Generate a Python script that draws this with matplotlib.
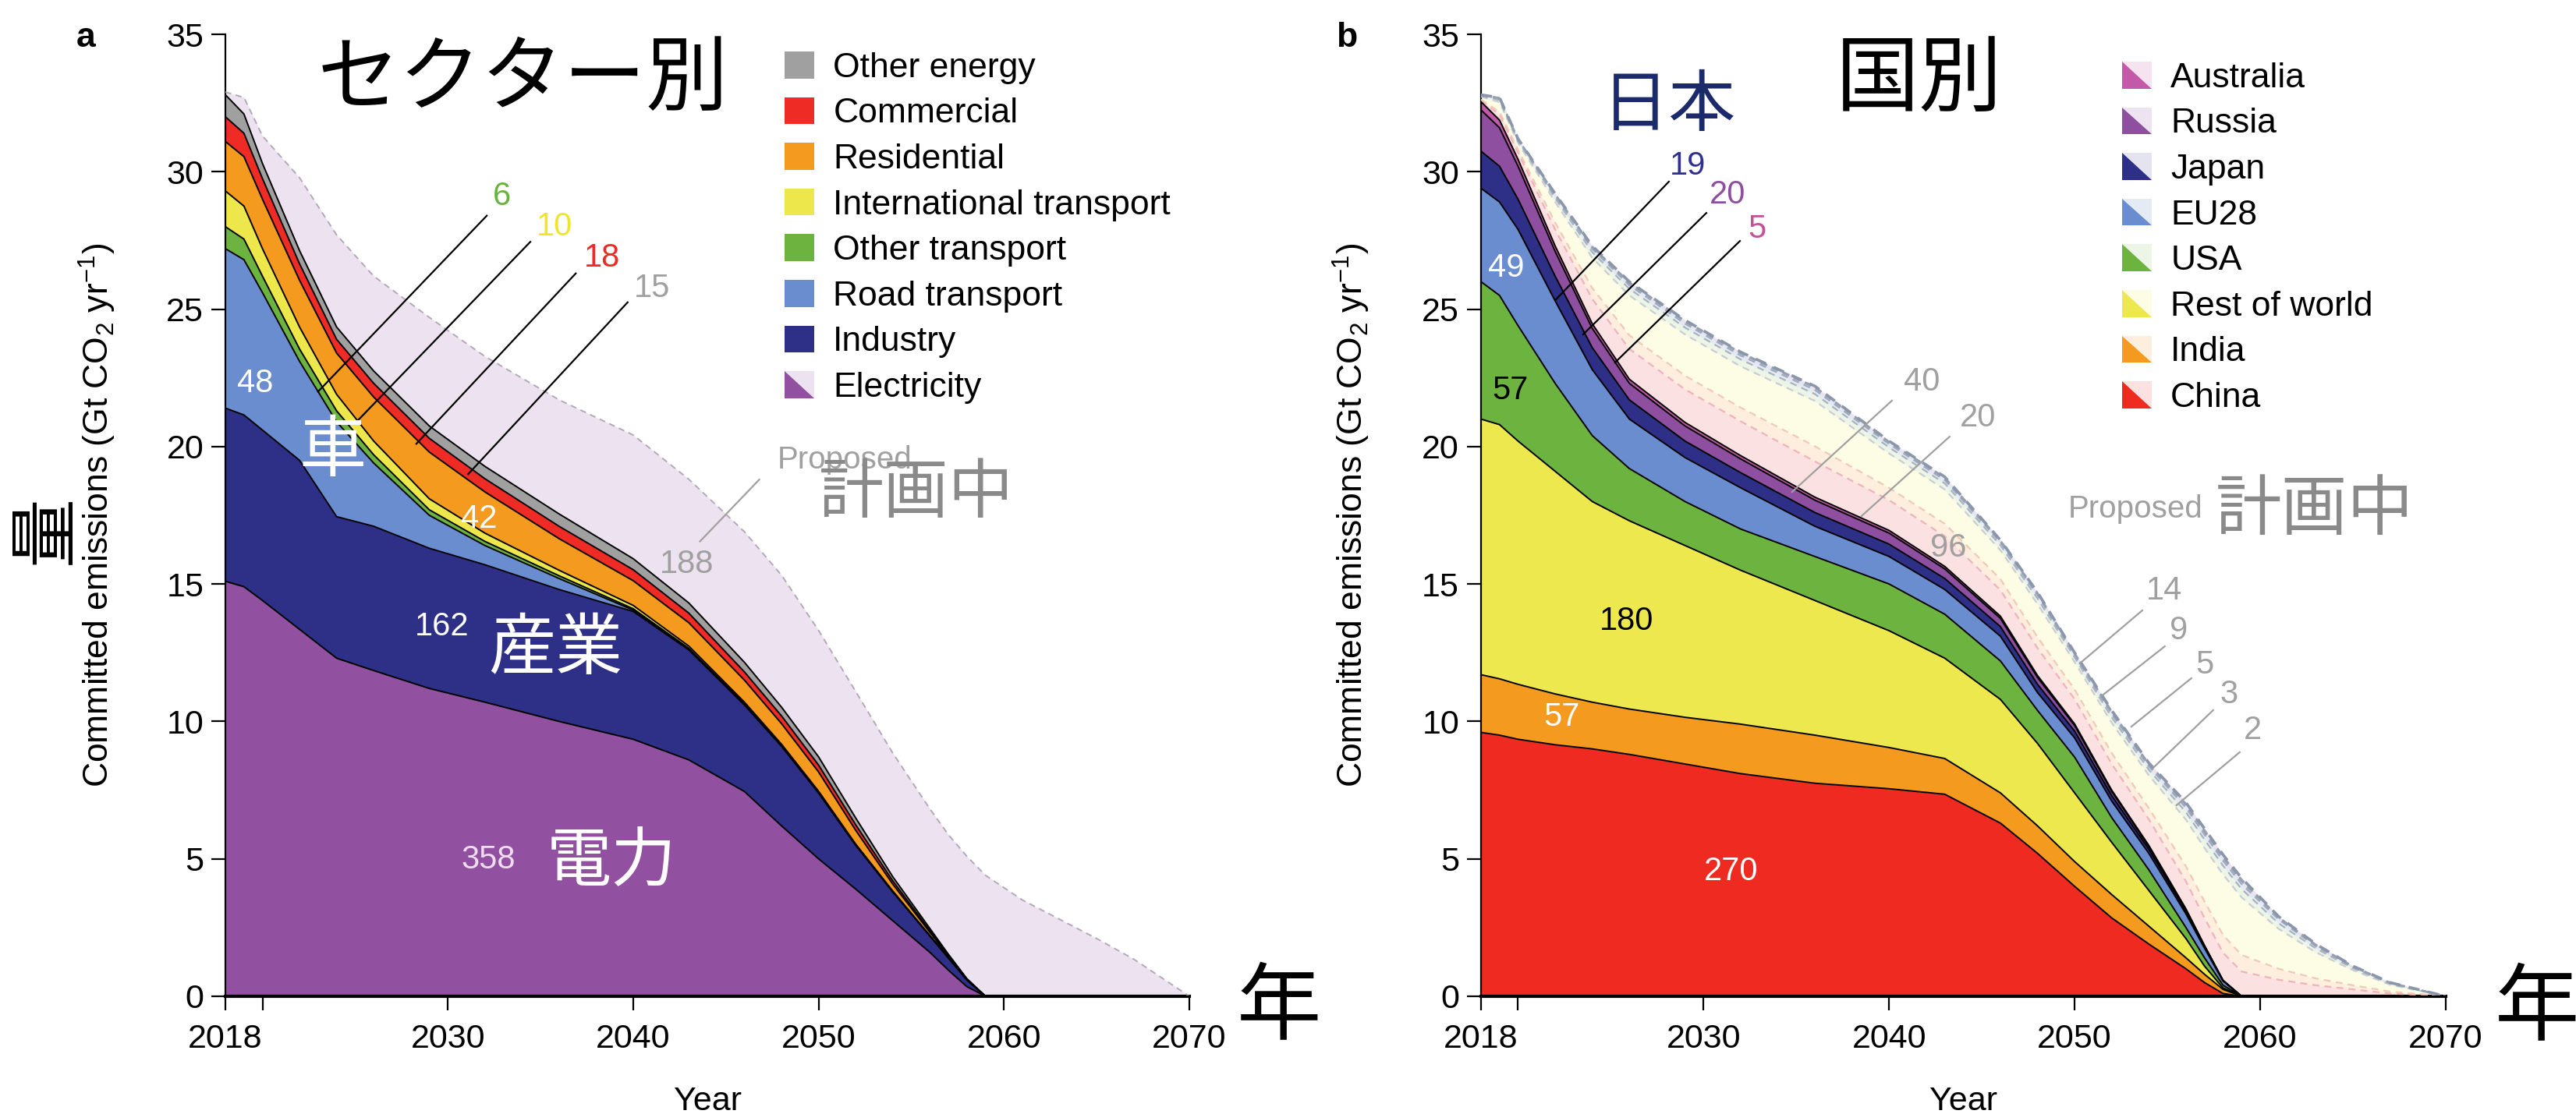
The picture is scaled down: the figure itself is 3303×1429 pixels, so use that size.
import matplotlib
matplotlib.use("Agg")
import matplotlib.pyplot as plt
import numpy as np
from matplotlib.patches import Patch, Polygon
from matplotlib.legend_handler import HandlerBase

plt.rcParams['font.family'] = ['Liberation Sans', 'DejaVu Sans']
plt.rcParams['mathtext.fontset'] = 'custom'
plt.rcParams['mathtext.rm'] = 'Liberation Sans'
plt.rcParams['mathtext.it'] = 'Liberation Sans:italic'
JP = ['Noto Sans CJK JP', 'DejaVu Sans']

years = [2018, 2019, 2020, 2022, 2024, 2026, 2029, 2032, 2036, 2040, 2043, 2046, 2048,
         2050, 2052, 2054, 2056, 2057, 2058, 2059, 2061, 2063, 2065, 2067, 2070]

# panel a: committed emissions by sector (Gt CO2 per year)
electricity = [15.1, 14.9, 14.4, 13.35, 12.3, 11.85, 11.2, 10.7, 10.0, 9.35, 8.6, 7.45, 6.2,
               5.0, 3.9, 2.75, 1.6, 0.95, 0.35, 0, 0, 0, 0, 0, 0]
industry = [6.3, 6.25, 6.2, 6.15, 5.15, 5.25, 5.1, 5.0, 4.8, 4.65, 4.0, 3.15, 2.9,
            2.4, 1.6, 1.05, 0.6, 0.45, 0.25, 0, 0, 0, 0, 0, 0]
road_transport = [5.8, 5.65, 5.0, 3.6, 3.45, 2.3, 1.2, 0.7, 0.4, 0.05, 0.02, 0.01, 0,
                  0, 0, 0, 0, 0, 0, 0, 0, 0, 0, 0, 0]
other_transport = [0.8, 0.75, 0.6, 0.45, 0.4, 0.3, 0.2, 0.15, 0.1, 0.05, 0.04, 0.03, 0.02,
                   0.02, 0.01, 0.01, 0, 0, 0, 0, 0, 0, 0, 0, 0]
intl_transport = [1.3, 1.2, 1.0, 0.8, 0.6, 0.5, 0.4, 0.3, 0.2, 0.12, 0.08, 0.06, 0.05,
                  0.04, 0.03, 0.02, 0.01, 0, 0, 0, 0, 0, 0, 0, 0]
residential = [1.8, 1.8, 1.8, 1.7, 1.5, 1.6, 1.7, 1.5, 1.15, 0.9, 0.85, 0.8, 0.75,
               0.7, 0.5, 0.25, 0.12, 0.06, 0.02, 0, 0, 0, 0, 0, 0]
commercial = [0.9, 0.85, 0.75, 0.6, 0.5, 0.5, 0.5, 0.48, 0.45, 0.4, 0.35, 0.3, 0.28,
              0.25, 0.2, 0.12, 0.06, 0.03, 0.01, 0, 0, 0, 0, 0, 0]
other_energy = [0.8, 0.7, 0.55, 0.48, 0.45, 0.45, 0.45, 0.45, 0.45, 0.4, 0.37, 0.35, 0.32,
                0.3, 0.25, 0.15, 0.08, 0.04, 0.01, 0, 0, 0, 0, 0, 0]
electricity_proposed = [0.1, 0.6, 1.0, 2.65, 3.35, 3.45, 3.95, 4.0, 4.15, 4.5, 4.5, 4.75, 4.8,
                        4.6, 4.6, 4.5, 4.35, 4.35, 4.45, 4.4, 3.5, 2.8, 2.1, 1.35, 0]

sector_names = ['Electricity', 'Industry', 'Road transport', 'Other transport',
                'International transport', 'Residential', 'Commercial', 'Other energy']
sector_colors = ['#9150a0', '#2e2f86', '#6a8dcf', '#6cb33f', '#ede74b', '#f39a1f', '#ee2b24', '#a0a0a0']
electricity_pale = '#ede3f0'

# panel b: committed emissions by country (Gt CO2 per year)
china = [9.6, 9.5, 9.35, 9.15, 9.0, 8.8, 8.45, 8.1, 7.75, 7.55, 7.35, 6.3, 5.2,
         4.0, 2.85, 1.9, 1.0, 0.5, 0.1, 0, 0, 0, 0, 0, 0]
india = [2.1, 2.05, 2.0, 1.85, 1.7, 1.65, 1.7, 1.8, 1.75, 1.5, 1.3, 1.1, 1.0,
         0.9, 0.85, 0.65, 0.4, 0.3, 0.15, 0, 0, 0, 0, 0, 0]
rest_of_world = [9.3, 9.25, 8.85, 8.1, 7.3, 6.85, 6.25, 5.6, 4.9, 4.25, 3.65, 3.4, 3.0,
                 2.5, 1.9, 1.3, 0.7, 0.3, 0.05, 0, 0, 0, 0, 0, 0]
usa = [5.0, 4.7, 4.2, 3.2, 2.4, 1.9, 1.6, 1.5, 1.6, 1.7, 1.6, 1.4, 1.2,
       1.3, 0.9, 0.75, 0.4, 0.3, 0.1, 0, 0, 0, 0, 0, 0]
eu28 = [3.4, 3.4, 3.5, 3.0, 2.4, 1.8, 1.6, 1.5, 1.1, 1.0, 0.9, 0.9, 0.65,
        0.7, 0.6, 0.6, 0.5, 0.35, 0.15, 0, 0, 0, 0, 0, 0]
japan = [1.35, 1.3, 1.1, 0.9, 0.8, 0.7, 0.6, 0.55, 0.5, 0.45, 0.4, 0.35, 0.3,
         0.25, 0.2, 0.15, 0.1, 0.06, 0.02, 0, 0, 0, 0, 0, 0]
russia = [1.5, 1.4, 1.2, 0.9, 0.7, 0.6, 0.55, 0.5, 0.45, 0.4, 0.35, 0.3, 0.25,
          0.2, 0.15, 0.1, 0.06, 0.03, 0.01, 0, 0, 0, 0, 0, 0]
australia = [0.3, 0.28, 0.25, 0.2, 0.17, 0.15, 0.13, 0.12, 0.11, 0.1, 0.09, 0.08, 0.07,
             0.06, 0.05, 0.04, 0.02, 0.01, 0, 0, 0, 0, 0, 0, 0]

# proposed power plants by country
china_prop = [0.05, 0.2, 0.25, 0.6, 0.9, 1.1, 1.2, 1.25, 1.3, 1.1, 1.1, 0.95, 1.0,
              0.9, 0.95, 0.95, 1.0, 1.0, 1.0, 0.9, 0.6, 0.4, 0.25, 0.1, 0]
india_prop = [0.03, 0.1, 0.1, 0.25, 0.4, 0.5, 0.5, 0.5, 0.55, 0.45, 0.45, 0.4, 0.4,
              0.35, 0.4, 0.4, 0.55, 0.6, 0.65, 0.6, 0.4, 0.25, 0.15, 0.07, 0]
row_prop = [0.1, 0.35, 0.25, 0.75, 1.1, 1.45, 1.5, 1.5, 1.65, 1.25, 1.25, 1.05, 1.2,
            1.0, 1.1, 1.2, 1.7, 1.95, 2.2, 2.1, 1.45, 0.95, 0.55, 0.25, 0]
usa_prop = [0.03, 0.08, 0.07, 0.14, 0.2, 0.24, 0.25, 0.25, 0.25, 0.22, 0.22, 0.18, 0.2,
            0.17, 0.2, 0.2, 0.27, 0.3, 0.32, 0.3, 0.2, 0.14, 0.07, 0.04, 0]
eu28_prop = [0.02, 0.04, 0.04, 0.08, 0.12, 0.13, 0.14, 0.14, 0.15, 0.12, 0.12, 0.1, 0.12,
             0.09, 0.12, 0.12, 0.16, 0.18, 0.18, 0.18, 0.14, 0.08, 0.04, 0.02, 0]
japan_prop = [0.01, 0.02, 0.02, 0.04, 0.06, 0.07, 0.07, 0.07, 0.08, 0.06, 0.06, 0.05, 0.06,
              0.04, 0.06, 0.06, 0.09, 0.1, 0.1, 0.1, 0.06, 0.04, 0.02, 0.01, 0]
russia_prop = [0.01, 0.02, 0.01, 0.03, 0.03, 0.04, 0.04, 0.04, 0.04, 0.03, 0.04, 0.03, 0.03,
               0.03, 0.04, 0.04, 0.06, 0.07, 0.07, 0.07, 0.03, 0.02, 0.01, 0.01, 0]
australia_prop = [0, 0.01, 0.01, 0.01, 0.02, 0.02, 0.02, 0.02, 0.02, 0.02, 0.02, 0.01, 0.02,
                  0.01, 0.03, 0.03, 0.04, 0.05, 0.05, 0.05, 0.02, 0.02, 0.01, 0, 0]

country_names = ['China', 'India', 'Rest of world', 'USA', 'EU28', 'Japan', 'Russia', 'Australia']
country_colors = ['#ef2a21', '#f39a1f', '#eee84f', '#6cb33f', '#6a8dcf', '#2e2f86', '#8e4fa0', '#c25aa8']
country_pale = ['#fbe1e2', '#fdeedd', '#fdfde6', '#edf5e6', '#e5ebf5', '#e3e4ef', '#eee4f1', '#f6e3f0']

year_ticks = [2018, 2020, 2030, 2040, 2050, 2060, 2070]
year_labels = ['2018', '', '2030', '2040', '2050', '2060', '2070']


class SplitHandler(HandlerBase):
    def __init__(self, dark, pale):
        super().__init__()
        self.dark = dark
        self.pale = pale

    def create_artists(self, legend, orig_handle, xdescent, ydescent, width, height, fontsize, trans):
        x0, y0 = -xdescent, -ydescent
        up = Polygon([[x0, y0 + height], [x0 + width, y0 + height], [x0 + width, y0]],
                     closed=True, facecolor=self.pale, edgecolor='none', transform=trans)
        low = Polygon([[x0, y0 + height], [x0, y0], [x0 + width, y0]],
                      closed=True, facecolor=self.dark, edgecolor='none', transform=trans)
        return [up, low]


def fill_stack(ax, layers, fills):
    tops = np.cumsum(np.array(layers, dtype=float), axis=0)
    bottoms = np.vstack([np.zeros(len(years)), tops[:-1]])
    for b, t, c in zip(bottoms, tops, fills):
        ax.fill_between(years, b, t, facecolor=c, edgecolor=c, linewidth=0.3, zorder=1)
    return tops


def style_axes(ax):
    ax.set_xlim(2018, 2070)
    ax.set_ylim(0, 35)
    ax.set_xticks(year_ticks)
    ax.set_xticklabels(year_labels)
    ax.set_yticks(range(0, 36, 5))
    for s in ['top', 'right']:
        ax.spines[s].set_visible(False)
    ax.spines['left'].set_linewidth(1.6)
    ax.spines['bottom'].set_linewidth(3)
    ax.tick_params(axis='both', direction='out', length=13, width=1.6, labelsize=31)
    ax.tick_params(axis='y', pad=7)
    ax.tick_params(axis='x', pad=12)
    ax.set_xlabel('Year', fontsize=31, labelpad=29)


def note(ax, x, y, s, color, size=30):
    ax.text(x, y, s, color=color, fontsize=size, ha='center', va='center', zorder=6)


def leader(ax, x1, y1, x2, y2, color):
    ax.plot([x1, x2], [y1, y2], color=color, lw=1.6, zorder=5, clip_on=False)


fig = plt.figure(figsize=(33.03, 14.29), dpi=100)
ax1 = fig.add_axes([0.0875, 0.1057, 0.3742, 0.8635])
ax2 = fig.add_axes([0.5749, 0.1057, 0.3745, 0.8635])

legend_kw = dict(loc='upper left', bbox_transform=fig.transFigure, frameon=False, fontsize=32,
                 handlelength=0.86, handleheight=0.82, labelspacing=0.38, handletextpad=0.54,
                 borderpad=0, borderaxespad=0)

# ---- panel a ----
sector_layers = [electricity, industry, road_transport, other_transport,
                 intl_transport, residential, commercial, other_energy]
tops = fill_stack(ax1, sector_layers + [electricity_proposed], sector_colors + [electricity_pale])
ax1.plot(years, tops[-1], color='#b3a8b8', lw=1.4, ls=(0, (4, 3)), zorder=3)
for t in tops[:-1]:
    ax1.plot(years, t, color='black', lw=1.4, zorder=4)
style_axes(ax1)

grey = '#a0a0a0'
note(ax1, 2032.9, 29.1, '6', '#6ab23e')
note(ax1, 2035.75, 28.0, '10', '#f0e42c')
note(ax1, 2038.3, 26.85, '18', '#ee2a24')
note(ax1, 2041.0, 25.75, '15', grey)
leader(ax1, 2032.1, 28.4, 2023.0, 22.0, 'black')
leader(ax1, 2034.45, 27.45, 2025.0, 20.85, 'black')
leader(ax1, 2036.9, 26.3, 2028.3, 20.1, 'black')
leader(ax1, 2039.7, 25.25, 2031.1, 19.0, 'black')
note(ax1, 2019.6, 22.3, '48', 'white')
note(ax1, 2031.7, 17.35, '42', 'white')
note(ax1, 2029.7, 13.45, '162', 'white')
note(ax1, 2032.2, 4.95, '358', '#efdcf0')
note(ax1, 2042.9, 15.7, '188', grey)
note(ax1, 2051.4, 19.5, 'Proposed', grey, size=29)
leader(ax1, 2046.8, 18.8, 2043.6, 16.55, grey)

handles_a = [Patch(facecolor=c, edgecolor='none') for c in sector_colors]
hmap_a = {handles_a[0]: SplitHandler(sector_colors[0], electricity_pale)}
ax1.legend(handles_a[::-1], sector_names[::-1], handler_map=hmap_a,
           bbox_to_anchor=(0.3046, 0.9538), **legend_kw)

# ---- panel b ----
committed = [china, india, rest_of_world, usa, eu28, japan, russia, australia]
proposed = [china_prop, india_prop, row_prop, usa_prop, eu28_prop, japan_prop, russia_prop, australia_prop]
tops = fill_stack(ax2, committed + proposed, country_colors + country_pale)
prop_edges = ['#eeb3bb', '#f0c9b8', '#c8cdd6', '#a9b2c0', '#a0aaba', '#98a3b4', '#93a0b2', '#8a97aa']
for t, c in zip(tops[8:], prop_edges):
    ax2.plot(years, t, color=c, lw=1.6 if c != prop_edges[-1] else 2.6, ls=(0, (4, 3)), zorder=3)
for t in tops[:8]:
    ax2.plot(years, t, color='black', lw=1.4, zorder=4)
style_axes(ax2)

note(ax2, 2019.35, 26.5, '49', 'white')
note(ax2, 2019.56, 22.05, '57', 'black')
note(ax2, 2025.86, 13.65, '180', 'black')
note(ax2, 2022.37, 10.15, '57', 'white')
note(ax2, 2031.5, 4.55, '270', 'white')
note(ax2, 2029.15, 30.2, '19', '#2e3192')
note(ax2, 2031.3, 29.15, '20', '#8e4fa0')
note(ax2, 2032.9, 27.9, '5', '#c4529a')
leader(ax2, 2028.13, 29.64, 2022.04, 25.35, 'black')
leader(ax2, 2030.15, 28.5, 2023.51, 24.08, 'black')
leader(ax2, 2031.96, 27.48, 2025.23, 23.06, 'black')
note(ax2, 2041.75, 22.35, '40', grey)
leader(ax2, 2040.15, 21.67, 2034.77, 18.35, grey)
note(ax2, 2044.8, 21.05, '20', grey)
leader(ax2, 2043.26, 20.36, 2038.51, 17.47, grey)
note(ax2, 2043.2, 16.3, '96', grey)
note(ax2, 2053.3, 17.73, 'Proposed', grey, size=29)
for lab, tx, ty, x1, y1, x2, y2 in [('14', 2054.82, 14.75, 2053.65, 14.04, 2050.28, 12.11),
                                    ('9', 2055.62, 13.3, 2054.86, 12.73, 2051.5, 10.95),
                                    ('5', 2057.0, 12.05, 2056.29, 11.57, 2053.06, 9.81),
                                    ('3', 2058.3, 10.98, 2057.47, 10.41, 2054.28, 8.34),
                                    ('2', 2059.6, 9.67, 2058.9, 8.88, 2055.49, 6.95)]:
    note(ax2, tx, ty, lab, grey)
    leader(ax2, x1, y1, x2, y2, grey)

handles_b = [Patch(facecolor=c, edgecolor='none') for c in country_colors]
hmap_b = {h: SplitHandler(c, p) for h, c, p in zip(handles_b, country_colors, country_pale)}
ax2.legend(handles_b[::-1], country_names[::-1], handler_map=hmap_b,
           bbox_to_anchor=(0.8238, 0.9447), **legend_kw)

# ---- shared labels ----
ylab = 'Committed emissions (Gt CO$_2$ yr$^{-1}$)'
fig.text(125 / 3303, 0.5375, ylab, rotation=90, fontsize=32, ha='center', va='center')
fig.text(1733 / 3303, 0.5375, ylab, rotation=90, fontsize=32, ha='center', va='center')
fig.text(98 / 3303, 0.958, 'a', fontsize=32, fontweight='bold', ha='left', va='baseline')
fig.text(1713 / 3303, 0.958, 'b', fontsize=32, fontweight='bold', ha='left', va='baseline')

# Japanese annotations
fig.text(0.2031, 0.9279, 'セクター別', family=JP, fontsize=76, color='black', ha='center', va='center')
fig.text(0.7451, 0.9279, '国別', family=JP, fontsize=77, color='black', ha='center', va='center')
fig.text(0.6479, 0.9041, '日本', family=JP, fontsize=62, color='#1b2a6b', ha='center', va='center')
fig.text(0.1290, 0.5941, '車', family=JP, fontsize=62, color='white', ha='center', va='center')
fig.text(0.2156, 0.4164, '産業', family=JP, fontsize=62, color='white', ha='center', va='center')
fig.text(0.2374, 0.2267, '電力', family=JP, fontsize=60, color='white', ha='center', va='center')
fig.text(0.3557, 0.5570, '計画中', family=JP, fontsize=60, color='#8a8a8a', ha='center', va='center')
fig.text(0.8986, 0.5416, '計画中', family=JP, fontsize=61, color='#8a8a8a', ha='center', va='center')
fig.text(0.4965, 0.0938, '年', family=JP, fontsize=78, color='black', ha='center', va='center')
fig.text(0.9849, 0.0931, '年', family=JP, fontsize=78, color='black', ha='center', va='center')
fig.text(0.0180, 0.5241, '量', family=JP, fontsize=64, color='black', rotation=90, ha='center', va='center')

fig.savefig('out.png', dpi=100, facecolor='white')
